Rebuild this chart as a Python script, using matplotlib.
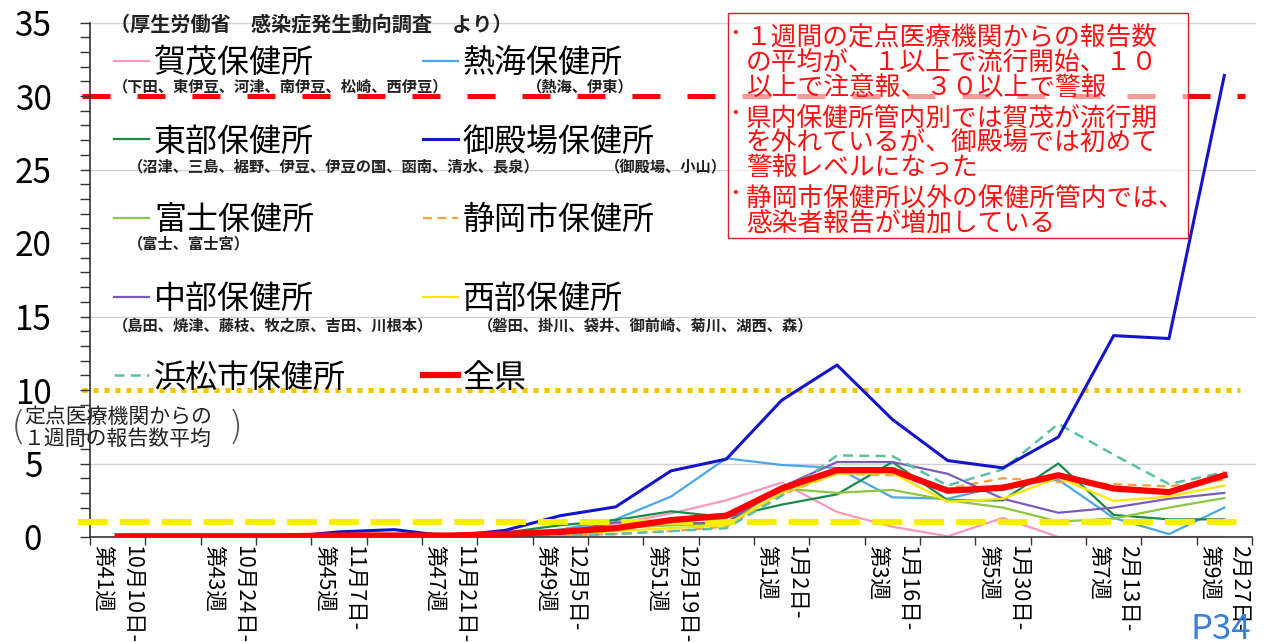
import matplotlib
matplotlib.use("Agg")
import matplotlib.pyplot as plt
import matplotlib.transforms as mtransforms
from matplotlib.patches import Rectangle

plt.rcParams['font.family'] = ['Noto Sans CJK JP', 'DejaVu Sans']

# 週（第41週〜第9週）
weeks = ["第41週", "第42週", "第43週", "第44週", "第45週", "第46週", "第47週",
         "第48週", "第49週", "第50週", "第51週", "第52週", "第1週", "第2週",
         "第3週", "第4週", "第5週", "第6週", "第7週", "第8週", "第9週"]
dates = ["10月10日-", "10月17日-", "10月24日-", "10月31日-", "11月7日-", "11月14日-",
         "11月21日-", "11月28日-", "12月5日-", "12月12日-", "12月19日-", "12月26日-",
         "1月2日-", "1月9日-", "1月16日-", "1月23日-", "1月30日-", "2月6日-",
         "2月13日-", "2月20日-", "2月27日-"]

kamo = [0, 0, 0, 0, 0, 0, 0, 0.2, 0.5, 0.9, 1.6, 2.5, 3.7, 1.7, 0.7, 0.05, 1.3, 0, 0, 0, 0]
atami = [0, 0, 0, 0, 0, 0, 0, 0.1, 0.5, 1.2, 2.75, 5.35, 4.9, 4.7, 2.7, 2.6, 3.5, 3.9, 1.3, 0.2, 2.0]
tobu = [0, 0, 0, 0, 0.05, 0.05, 0.05, 0.3, 0.8, 1.15, 1.75, 1.35, 2.2, 2.9, 5.1, 2.5, 2.5, 5.0, 1.5, 1.2, 1.2]
gotemba = [0, 0, 0, 0, 0.35, 0.5, 0.05, 0.45, 1.45, 2.05, 4.5, 5.3, 9.3, 11.7, 8.0, 5.2, 4.7, 6.8, 13.7, 13.5, 31.4]
fuji = [0, 0, 0, 0, 0, 0.05, 0.05, 0.1, 0.3, 0.6, 0.8, 0.9, 3.3, 3.0, 3.2, 2.5, 2.0, 1.05, 1.25, 2.0, 2.65]
shizuoka = [0, 0, 0, 0, 0, 0, 0, 0, 0.1, 0.2, 0.4, 0.7, 2.9, 4.3, 4.2, 3.3, 4.0, 3.75, 3.6, 3.45, 3.9]
chubu = [0, 0, 0, 0, 0.05, 0.05, 0.05, 0.1, 0.3, 1.0, 0.9, 1.0, 3.4, 5.1, 5.1, 4.3, 2.6, 1.65, 2.0, 2.6, 3.0]
seibu = [0, 0, 0, 0, 0, 0, 0, 0.05, 0.2, 0.4, 0.6, 0.8, 3.0, 4.3, 4.35, 2.4, 2.6, 4.05, 2.45, 2.75, 3.5]
hamamatsu = [0, 0, 0, 0, 0, 0, 0, 0, 0.1, 0.2, 0.4, 0.6, 2.8, 5.55, 5.5, 3.5, 4.6, 7.7, 5.6, 3.6, 4.4]
zenken = [0.05, 0.05, 0.05, 0.05, 0.1, 0.1, 0.1, 0.2, 0.35, 0.6, 1.15, 1.45, 3.3, 4.55, 4.55, 3.15, 3.35, 4.2, 3.3, 3.05, 4.2]

W, H = 1266, 642
fig = plt.figure(figsize=(W / 100, H / 100), dpi=100)
ax = fig.add_axes([90 / W, 1 - 537 / H, (1252 - 90) / W, (537 - 22.5) / H])

x = list(range(len(weeks)))

# 目安線
for g in (5, 15, 25, 35):
    ax.axhline(g, color="#d2d2d2", lw=1, zorder=0.5, xmax=1.003, clip_on=False)
ax.axhline(10, xmin=-0.007, xmax=0.99, color="#f0c400", lw=3.6,
           linestyle=(0, (1.0, 1.2)), zorder=1, clip_on=False)
ax.axhline(30, xmin=-0.007, xmax=0.994, color="#ff0000", lw=3.6,
           linestyle=(0, (5.6, 5.4)), zorder=1, clip_on=False)

lines = {}
lines["賀茂保健所"], = ax.plot(x, kamo, color="#f49ac1", lw=1.6, zorder=2)
lines["熱海保健所"], = ax.plot(x, atami, color="#4da6e8", lw=1.6, zorder=2)
lines["東部保健所"], = ax.plot(x, tobu, color="#1a8a4a", lw=1.6, zorder=2)
lines["富士保健所"], = ax.plot(x, fuji, color="#8dc63f", lw=1.6, zorder=2)
lines["静岡市保健所"], = ax.plot(x, shizuoka, color="#f7a145", lw=1.6,
                                linestyle=(0, (4, 2.5)), zorder=2)
lines["中部保健所"], = ax.plot(x, chubu, color="#7b5cb8", lw=1.6, zorder=2)
lines["西部保健所"], = ax.plot(x, seibu, color="#ffe600", lw=1.6, zorder=2)
lines["浜松市保健所"], = ax.plot(x, hamamatsu, color="#5cbfa8", lw=1.8,
                                linestyle=(0, (4, 2.5)), zorder=2)
lines["御殿場保健所"], = ax.plot(x, gotemba, color="#1414c8", lw=2.2, zorder=3)
ax.axhline(1, xmin=-0.01, xmax=0.995, color="#f8ee00", lw=4.3,
           linestyle=(0, (5.0, 2.0)), zorder=3.5, clip_on=False)
lines["全県"], = ax.plot(x, zenken, color="#ff0000", lw=4.5, zorder=4,
                        solid_joinstyle="round")

ax.set_xlim(-0.5, len(weeks) - 0.5)
ax.set_ylim(0, 35)

for s in ("top", "right"):
    ax.spines[s].set_visible(False)
for s in ("left", "bottom"):
    ax.spines[s].set_color("#333333")
    ax.spines[s].set_linewidth(1.2)

ax.set_yticks(range(0, 36, 5))
ax.set_yticks(range(0, 36), minor=True)
ax.tick_params(axis="y", which="both", direction="out", length=7, width=1,
               color="#333333", labelsize=24, pad=34)
for lab in ax.get_yticklabels():
    lab.set_horizontalalignment("center")

xlabels = [d + "\n" + w if i % 2 == 0 else "" for i, (w, d) in enumerate(zip(weeks, dates))]
ax.set_xticks(x)
ax.set_xticklabels(xlabels, rotation=-90, ha="center", va="top",
                   multialignment="left", fontsize=15.5, linespacing=1.45)
shift = mtransforms.ScaledTranslation(-11 / 100, 0, fig.dpi_scale_trans)
for lab in ax.get_xticklabels():
    lab.set_transform(lab.get_transform() + shift)
ax.set_xticks([i - 0.5 for i in range(len(weeks) + 1)], minor=True)
ax.tick_params(axis="x", which="major", length=0, pad=6)
ax.tick_params(axis="x", which="minor", direction="out", length=6, width=1, color="#333333")

# 凡例
order = ["賀茂保健所", "東部保健所", "富士保健所", "中部保健所", "浜松市保健所",
         "熱海保健所", "御殿場保健所", "静岡市保健所", "西部保健所", "全県"]
ax.legend([lines[k] for k in order], order, ncol=2, loc="upper left",
          bbox_to_anchor=(114 / W, 1 - 47 / H), bbox_transform=fig.transFigure,
          frameon=False, fontsize=23, handlelength=1.1, handletextpad=0.15,
          columnspacing=2.4, labelspacing=1.46, borderpad=0, borderaxespad=0)

fig.text(110 / W, 1 - 24 / H, "（厚生労働省　感染症発生動向調査　より）",
         fontsize=14.5, fontweight="bold", va="center", color="#222222")

subs = [
    (113, 86, "（下田、東伊豆、河津、南伊豆、松崎、西伊豆）"),
    (527, 86, "（熱海、伊東）"),
    (128, 166, "（沼津、三島、裾野、伊豆、伊豆の国、函南、清水、長泉）"),
    (605, 166, "（御殿場、小山）"),
    (128, 243, "（富士、富士宮）"),
    (113, 325, "（島田、焼津、藤枝、牧之原、吉田、川根本）"),
    (478, 325, "（磐田、掛川、袋井、御前崎、菊川、湖西、森）"),
]
for px, py, s in subs:
    fig.text(px / W, 1 - py / H, s, fontsize=11, fontweight="bold",
             va="center", color="#222222")

# 縦軸の説明
fig.text(24 / W, 1 - 428 / H, "定点医療機関からの\n１週間の報告数平均", fontsize=15,
         va="center", color="#222222", linespacing=1.0)
fig.text(11 / W, 1 - 428 / H, "(", fontsize=28, family="DejaVu Sans", fontweight="light",
         va="center", color="#555555")
fig.text(228 / W, 1 - 428 / H, ")", fontsize=28, family="DejaVu Sans", fontweight="light",
         va="center", color="#555555")

# コメント枠
fig.add_artist(Rectangle((728 / W, 1 - 238 / H), 460 / W, 225 / H,
                         transform=fig.transFigure, facecolor="white", alpha=0.6,
                         edgecolor="none", zorder=5))
fig.add_artist(Rectangle((728 / W, 1 - 238 / H), 460 / W, 225 / H,
                         transform=fig.transFigure, facecolor="none",
                         edgecolor="#e02020", lw=1, zorder=6))
notes = [
    (26, "１週間の定点医療機関からの報告数\nの平均が、１以上で流行開始、１０\n以上で注意報、３０以上で警報"),
    (107, "県内保健所管内別では賀茂が流行期\nを外れているが、御殿場では初めて\n警報レベルになった"),
    (187, "静岡市保健所以外の保健所管内では、\n感染者報告が増加している"),
]
for py, s in notes:
    fig.text(735 / W, 1 - (py + 6) / H, "•", fontsize=12, ha="center", va="center",
             color="#ff1010", zorder=7)
    fig.text(746 / W, 1 - py / H, s, fontsize=18.5, va="top", color="#ff1010",
             linespacing=0.91, zorder=7)

fig.text(1190 / W, 3 / H, "P34", fontsize=25, color="#3d7fd9", va="baseline", zorder=8)

fig.savefig("out.png", dpi=100)
